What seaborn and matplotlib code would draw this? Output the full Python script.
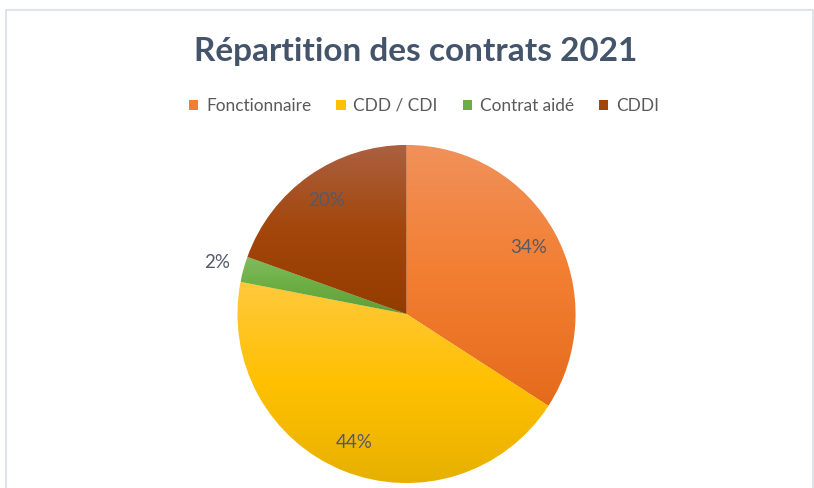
import numpy as np
import matplotlib
matplotlib.use("Agg")
import matplotlib.pyplot as plt
from matplotlib.colors import LinearSegmentedColormap
from matplotlib.patches import Rectangle, Patch
import seaborn as sns

# --- données ---
categories = ['Fonctionnaire', 'CDD / CDI', 'Contrat aidé', 'CDDI']
effectifs = [14, 18, 1, 8]
titre = 'Répartition des contrats 2021'

# couleurs de base + dégradé (clair en haut, foncé en bas)
base_colors = ['#F37E31', '#FFC000', '#6DAE44', '#A3460B']
light_colors = ['#F0915A', '#FFC93D', '#80BC5F', '#AB6040']
dark_colors = ['#E56B1C', '#E6B000', '#5E9E38', '#943C00']

sns.set_theme(style="white")
plt.rcParams['font.family'] = ['Lato', 'DejaVu Sans']

fig = plt.figure(figsize=(8.14, 4.88), dpi=100)
fig.patch.set_facecolor('white')

# cadre léger du graphique
fig.patches.append(Rectangle((6 / 814, -0.05), 807 / 814, 1.05 - 10 / 488,
                             transform=fig.transFigure, fill=False,
                             edgecolor='#D9DEE8', lw=1.2))

# axe du camembert: centre (406.5, 314) px, rayon 169 px
R = 169
size = 2.5 * R
ax = fig.add_axes([(406.5 - size / 2) / 814, (488 - 314 - size / 2) / 488,
                   size / 814, size / 488])

wedges, texts, autotexts = ax.pie(
    effectifs, startangle=90, counterclock=False, colors=base_colors,
    autopct=lambda p: f'{p:.0f}%', pctdistance=0.82,
    textprops=dict(color='#525B6A', fontsize=13.5),
    wedgeprops=dict(linewidth=0.6, edgecolor='white'))

# dégradé vertical par part
grad = np.linspace(0, 1, 256).reshape(-1, 1)
for w, lc, bc, dc in zip(wedges, light_colors, base_colors, dark_colors):
    verts = w.get_path().vertices
    xmin, ymin = verts.min(axis=0)
    xmax, ymax = verts.max(axis=0)
    cmap = LinearSegmentedColormap.from_list('g', [dc, bc, lc])
    im = ax.imshow(grad, cmap=cmap, origin='lower', aspect='auto',
                   extent=(xmin, xmax, ymin, ymax), zorder=w.get_zorder() + 0.1,
                   interpolation='bicubic')
    im.set_clip_path(w)

# petite part: étiquette à l'extérieur
for t, val in zip(autotexts, effectifs):
    if val / sum(effectifs) < 0.05:
        x, y = t.get_position()
        t.set_position((x * 1.16 / 0.82, y * 1.16 / 0.82))
    t.set_zorder(5)

ax.set_xlim(-1.25, 1.25)
ax.set_ylim(-1.25, 1.25)
ax.set_aspect('equal')
ax.axis('off')

fig.text(0.511, 0.895, titre, ha='center', va='center', fontsize=24,
         fontweight='bold', color='#44546A')

handles = [Patch(facecolor=c, edgecolor='none') for c in base_colors]
fig.legend(handles, categories, loc='center', bbox_to_anchor=(0.521, 0.783),
           ncol=4, frameon=False, fontsize=12.4, labelcolor='#595959',
           handlelength=0.55, handleheight=0.55, handletextpad=0.45,
           columnspacing=1.45)

plt.savefig('out.png', dpi=100)
